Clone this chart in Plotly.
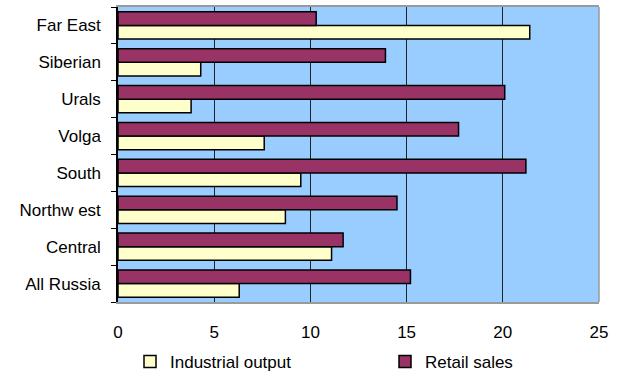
import plotly.graph_objects as go

regions = ["All Russia", "Central", "Northw est", "South", "Volga", "Urals", "Siberian", "Far East"]
industrial_output = [6.3, 11.1, 8.7, 9.5, 7.6, 3.8, 4.3, 21.4]
retail_sales = [15.2, 11.7, 14.5, 21.2, 17.7, 20.1, 13.9, 10.3]
x_ticks = [0, 5, 10, 15, 20, 25]

FONT = "Liberation Sans, Arial, sans-serif"
FS = 17

fig = go.Figure()
fig.add_trace(go.Bar(
    y=regions, x=industrial_output, orientation="h", name="Industrial output",
    marker=dict(color="#FFFFCC", line=dict(color="#000000", width=1.5)),
    legend="legend",
))
fig.add_trace(go.Bar(
    y=regions, x=retail_sales, orientation="h", name="Retail sales",
    marker=dict(color="#993366", line=dict(color="#000000", width=1.5)),
    legend="legend2",
))

leg_common = dict(
    orientation="h", xref="container", yref="container",
    xanchor="left", yanchor="middle", y=1 - 362 / 373,
    font=dict(family=FONT, size=FS, color="#000000"),
    bgcolor="rgba(0,0,0,0)", borderwidth=0,
)

fig.update_layout(
    width=618, height=373,
    margin=dict(l=118, r=19, t=7, b=71, autoexpand=False),
    paper_bgcolor="#FFFFFF",
    plot_bgcolor="#99CCFF",
    barmode="group",
    bargap=0.26,
    bargroupgap=0,
    font=dict(family=FONT, size=FS, color="#000000"),
    showlegend=True,
    legend=dict(x=(150 - 20) / 618, **leg_common),
    legend2=dict(x=(405 - 20) / 618, **leg_common),
    xaxis=dict(
        range=[0, 25], tickvals=x_ticks, ticktext=[str(v) for v in x_ticks],
        showgrid=True, gridcolor="#222222", gridwidth=1,
        zeroline=False,
        showline=True, linecolor="#9A9A9A", linewidth=1.5, mirror=True,
        ticks="", ticklabelstandoff=14,
        tickfont=dict(family=FONT, size=FS),
    ),
    yaxis=dict(
        type="category", categoryorder="array", categoryarray=regions,
        showgrid=False, zeroline=False,
        showline=True, linecolor="#000000", linewidth=1.5,
        ticks="outside", ticklen=5, tickcolor="#000000", tickwidth=1,
        tickson="boundaries", ticklabelstandoff=12,
        tickfont=dict(family=FONT, size=FS),
    ),
    shapes=[dict(type="line", xref="paper", yref="paper", x0=1, x1=1, y0=0, y1=1,
                 line=dict(color="#9A9A9A", width=1.5))],
)

fig.write_html("out.html")
